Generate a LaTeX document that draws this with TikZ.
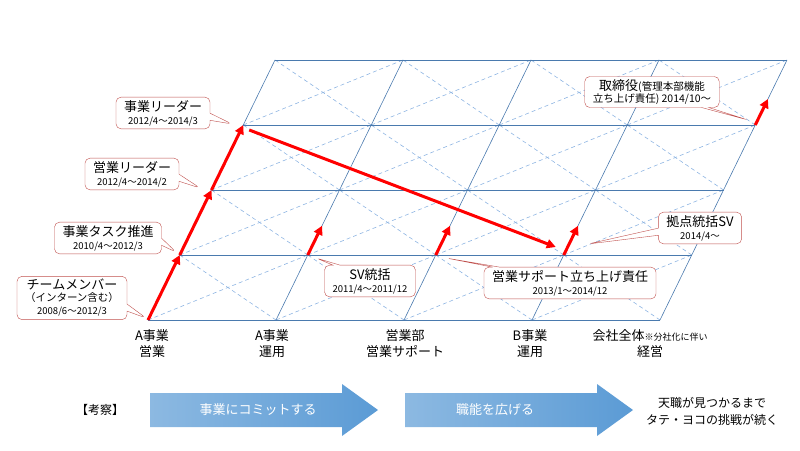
\documentclass[tikz,border=0pt]{standalone}
\usepackage{fontspec}
\setmainfont{Noto Sans CJK JP}
\usetikzlibrary{calc,shapes.callouts,arrows.meta}
\definecolor{gridblue}{HTML}{4A7AAE}
\definecolor{dashblue}{HTML}{8DB4E2}
\definecolor{calloutred}{HTML}{C0504D}
\definecolor{arrowblue}{HTML}{5B9BD5}
\tikzset{
  career/.style={line width=3pt,red,-{Triangle[length=9pt,width=9pt]}},
  note/.style={rectangle callout,rounded corners=5pt,draw=calloutred,fill=white,
    align=center,inner xsep=8pt,inner ysep=3pt,font=\fontsize{13}{14}\selectfont},
  org/.style={align=center,font=\fontsize{13}{16}\selectfont},
  bigarrow/.style={left color=arrowblue!70,right color=arrowblue}
}
\newcommand{\dt}[1]{\\[-1pt]{\fontsize{9.5}{10}\selectfont #1}}
\begin{document}
\begin{tikzpicture}[x=1pt,y=-1pt]
\useasboundingbox (0,0) rectangle (800,450);
% grid points
\foreach \i in {0,...,4}
  \foreach \j in {0,...,4}
    \coordinate (g-\i-\j) at (148+128*\i+31.75*\j, 320-65*\j);
% dashed diagonals
\foreach \i in {0,...,3}
  \foreach \j in {0,...,3} {
    \pgfmathtruncatemacro{\ni}{\i+1}
    \pgfmathtruncatemacro{\nj}{\j+1}
    \draw[dashblue,dash pattern=on 4pt off 3pt,line width=0.6pt] (g-\i-\j) -- (g-\ni-\nj);
    \draw[dashblue,dash pattern=on 4pt off 3pt,line width=0.6pt] (g-\ni-\j) -- (g-\i-\nj);
  }
% grid lines
\foreach \k in {0,...,4} {
  \draw[gridblue,semithick] (g-0-\k) -- (g-4-\k);
  \draw[gridblue,semithick] (g-\k-0) -- (g-\k-4);
}
% career path
\draw[career] (g-0-0) -- (g-0-1);
\draw[career] (g-0-1) -- (g-0-2);
\draw[career] (g-0-2) -- (g-0-3);
\draw[career] ($(g-0-3)+(6,5)$) -- ($(g-3-1)+(-8,-8)$);
\draw[career] (g-1-1) -- ($(g-1-1)!0.45!(g-1-2)$);
\draw[career] (g-2-1) -- ($(g-2-1)!0.45!(g-2-2)$);
\draw[career] (g-3-1) -- ($(g-3-1)!0.45!(g-3-2)$);
\draw[career] (g-4-3) -- ($(g-4-3)!0.4!(g-4-4)$);
% callouts
\node[note,callout absolute pointer={(146,318)}] (member) at (72,298)
  {チームメンバー\\[-2pt]{\fontsize{10.5}{11}\selectfont （インターン含む）}\dt{2008/6～2012/3}};
\node[note,callout absolute pointer={(176,252)}] (task) at (108,238) {事業タスク推進\dt{2010/4～2012/3}};
\node[note,callout absolute pointer={(200,188)}] (salesleader) at (132,174) {営業リーダー\dt{2012/4～2014/2}};
\node[note,callout absolute pointer={(232,124)}] (bizleader) at (163,113) {事業リーダー\dt{2012/4～2014/3}};
\node[note,callout absolute pointer={(316,258)}] (sv) at (370,281) {SV統括\dt{2011/4～2011/12}};
\node[note,callout absolute pointer={(446,258)}] (support) at (570,283) {営業サポート立ち上げ責任\dt{2013/1～2014/12}};
\node[note,callout absolute pointer={(588,244)}] (base) at (700,228) {拠点統括SV\dt{2014/4～}};
\node[note,callout absolute pointer={(748,120)}] (director) at (652,92)
  {取締役{\fontsize{10.5}{11}\selectfont (管理本部機能}\\[-2pt]{\fontsize{10.5}{11}\selectfont 立ち上げ責任) 2014/10～}};
% organisations
\node[org] (abiz) at (152,344) {A事業\\営業};
\node[org] (aop) at (272,344) {A事業\\運用};
\node[org] (salesdept) at (405,344) {営業部\\営業サポート};
\node[org] (bop) at (530,344) {B事業\\運用};
\node[org] (whole) at (650,344) {会社全体{\fontsize{9}{10}\selectfont ※分社化に伴い}\\経営};
% conclusion
\node[font=\fontsize{12}{14}\selectfont] (insight) at (100,410) {【考察】};
\shade[bigarrow] (150,393) -- (342,393) -- (342,384) -- (378,410) -- (342,436) -- (342,427) -- (150,427) -- cycle;
\node[text=white,font=\fontsize{13}{15}\selectfont] (commit) at (258,410) {事業にコミットする};
\shade[bigarrow] (405,393) -- (597,393) -- (597,384) -- (633,410) -- (597,436) -- (597,427) -- (405,427) -- cycle;
\node[text=white,font=\fontsize{13}{15}\selectfont] (widen) at (495,410) {職能を広げる};
\node[align=center,font=\fontsize{12}{17}\selectfont] (calling) at (712,411) {天職が見つかるまで\\タテ・ヨコの挑戦が続く};
\end{tikzpicture}
\end{document}
